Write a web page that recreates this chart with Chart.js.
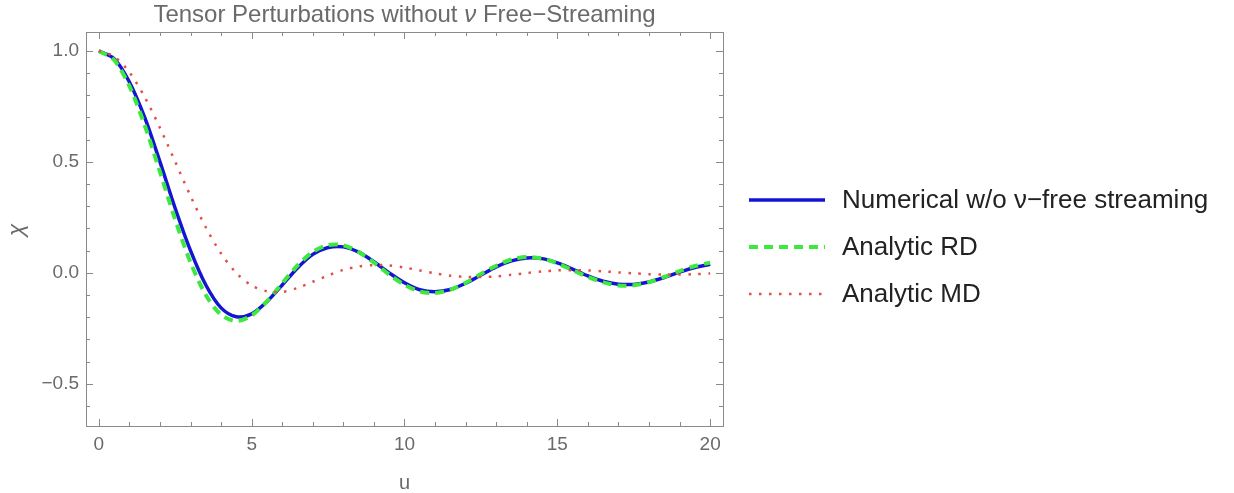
<!DOCTYPE html>
<html>
<head>
<meta charset="utf-8">
<script src="https://cdn.jsdelivr.net/npm/chart.js@4.4.1/dist/chart.umd.min.js"></script>
<style>
  html, body { margin: 0; padding: 0; background: #fff; }
  #wrap { width: 1234px; height: 493px; }
</style>
</head>
<body>
<div id="wrap"><canvas id="chart" width="1234" height="493"></canvas></div>
<script>
  // values, u = 0 .. 20 in steps of 0.5
  var uValues = [0, 0.5, 1, 1.5, 2, 2.5, 3, 3.5, 4, 4.5, 5, 5.5, 6, 6.5, 7, 7.5, 8, 8.5, 9, 9.5, 10,
    10.5, 11, 11.5, 12, 12.5, 13, 13.5, 14, 14.5, 15, 15.5, 16, 16.5, 17, 17.5, 18, 18.5, 19, 19.5, 20];

  var numerical = [1.0, 0.965, 0.86, 0.70, 0.50, 0.29, 0.10, -0.055, -0.158, -0.198, -0.185, -0.13, -0.055, 0.022, 0.083, 0.114, 0.117, 0.093, 0.05, 0.0, -0.045,
    -0.076, -0.085, -0.075, -0.047, -0.010, 0.027, 0.054, 0.067, 0.064, 0.045, 0.017, -0.014, -0.038, -0.051, -0.052, -0.041, -0.021, 0.003, 0.024, 0.039];

  var analyticRD = [1.0, 0.959, 0.841, 0.665, 0.455, 0.239, 0.047, -0.100, -0.189, -0.217, -0.192, -0.128, -0.047, 0.033, 0.094, 0.125, 0.124, 0.094, 0.046, -0.008, -0.054,
    -0.084, -0.091, -0.076, -0.045, -0.005, 0.032, 0.060, 0.071, 0.064, 0.043, 0.012, -0.018, -0.043, -0.057, -0.056, -0.042, -0.018, 0.008, 0.031, 0.046];

  var analyticMD = [1.0, 0.975, 0.904, 0.792, 0.653, 0.50, 0.346, 0.205, 0.087, -0.001, -0.057, -0.083, -0.086, -0.068, -0.040, -0.012, 0.013, 0.029, 0.035, 0.033, 0.024,
    0.011, -0.002, -0.013, -0.018, -0.019, -0.016, -0.009, -0.001, 0.006, 0.011, 0.012, 0.011, 0.007, 0.002, -0.002, -0.006, -0.008, -0.008, -0.006, -0.003];

  var xTicks = [0, 5, 10, 15, 20];
  var yTicks = [-0.5, 0.0, 0.5, 1.0];
  var seriesNames = ["Numerical w/o \u03bd\u2212free streaming", "Analytic RD", "Analytic MD"];

  var FONT = "'Liberation Sans', Arial, sans-serif";
  var FRAME = "#8a8a8a";
  var LABEL = "#6a6a6a";

  function pts(ys) {
    return uValues.map(function (u, i) { return { x: u, y: ys[i] }; });
  }

  // frame with inward ticks on all four sides, like the Mathematica original
  var framePlugin = {
    id: "frame",
    afterDatasetsDraw: function (chart) {
      var ctx = chart.ctx, a = chart.chartArea;
      var xs = chart.scales.x, ys = chart.scales.y;
      ctx.save();
      ctx.strokeStyle = FRAME;
      ctx.lineWidth = 1;
      ctx.strokeRect(Math.round(a.left) + 0.5, Math.round(a.top) + 0.5, Math.round(a.right - a.left), Math.round(a.bottom - a.top));
      ctx.beginPath();
      for (var u = 0; u <= 20; u++) {
        var px = Math.round(xs.getPixelForValue(u)) + 0.5;
        var len = u % 5 === 0 ? 7 : 4;
        ctx.moveTo(px, a.bottom); ctx.lineTo(px, a.bottom - len);
        ctx.moveTo(px, a.top); ctx.lineTo(px, a.top + len);
      }
      for (var k = -6; k <= 10; k++) {
        var py = Math.round(ys.getPixelForValue(k / 10)) + 0.5;
        var l2 = k % 5 === 0 ? 7 : 4;
        ctx.moveTo(a.left, py); ctx.lineTo(a.left + l2, py);
        ctx.moveTo(a.right, py); ctx.lineTo(a.right - l2, py);
      }
      ctx.stroke();
      ctx.restore();
    },
    afterDraw: function (chart) {
      var ctx = chart.ctx, a = chart.chartArea;
      ctx.save();
      // title with italic nu
      var parts = [["Tensor Perturbations without ", "normal"], ["\u03bd", "italic"], [" Free\u2212Streaming", "normal"]];
      var size = 24, total = 0;
      parts.forEach(function (p) { ctx.font = p[1] + " " + size + "px " + FONT; total += ctx.measureText(p[0]).width; });
      var x = (a.left + a.right) / 2 - total / 2;
      ctx.fillStyle = LABEL;
      ctx.textBaseline = "middle";
      parts.forEach(function (p) {
        ctx.font = p[1] + " " + size + "px " + FONT;
        ctx.fillText(p[0], x, 15);
        x += ctx.measureText(p[0]).width;
      });

      // axis labels
      ctx.font = "20px " + FONT;
      ctx.textAlign = "center";
      ctx.fillText("u", (a.left + a.right) / 2, 483);
      ctx.save();
      ctx.translate(17, 230);
      ctx.rotate(-Math.PI / 2);
      ctx.font = "italic 23px " + FONT;
      ctx.fillText("\u03c7", 0, 0);
      ctx.restore();

      // legend
      ctx.textAlign = "left";
      ctx.font = "26px " + FONT;
      var rows = [200, 247, 294];
      chart.data.datasets.forEach(function (ds, i) {
        ctx.beginPath();
        ctx.strokeStyle = ds.borderColor;
        ctx.lineWidth = ds.borderWidth;
        ctx.setLineDash(ds.borderDash || []);
        ctx.moveTo(749, rows[i]);
        ctx.lineTo(825, rows[i]);
        ctx.stroke();
        ctx.setLineDash([]);
        ctx.fillStyle = "#222222";
        ctx.fillText(seriesNames[i], 842, rows[i] + 1);
      });
      ctx.restore();
    }
  };

  new Chart(document.getElementById("chart"), {
    type: "scatter",
    data: {
      datasets: [
        { label: seriesNames[0], data: pts(numerical), showLine: true, borderColor: "#1414d2", borderWidth: 3.5,
          pointRadius: 0, tension: 0.3, order: 3 },
        { label: seriesNames[1], data: pts(analyticRD), showLine: true, borderColor: "#3ee83e", borderWidth: 4,
          borderDash: [9, 6], pointRadius: 0, tension: 0.3, order: 2 },
        { label: seriesNames[2], data: pts(analyticMD), showLine: true, borderColor: "#e0504a", borderWidth: 2.5,
          borderDash: [2.5, 7.5], pointRadius: 0, tension: 0.3, order: 1 }
      ]
    },
    options: {
      responsive: false,
      animation: false,
      events: [],
      layout: { padding: { top: 32, right: 511, left: 0, bottom: 0 } },
      plugins: { legend: { display: false }, tooltip: { enabled: false }, title: { display: false } },
      scales: {
        x: {
          type: "linear", min: -0.42, max: 20.42,
          afterFit: function (s) { s.height = 67; },
          afterBuildTicks: function (s) { s.ticks = xTicks.map(function (v) { return { value: v }; }); },
          grid: { display: false, drawTicks: false },
          border: { display: false },
          ticks: { padding: 7, color: LABEL, font: { family: FONT, size: 19 }, maxRotation: 0,
            callback: function (v) { return String(v); } }
        },
        y: {
          type: "linear", min: -0.69, max: 1.085,
          afterFit: function (s) { s.width = 86; },
          afterBuildTicks: function (s) { s.ticks = yTicks.map(function (v) { return { value: v }; }); },
          grid: { display: false, drawTicks: false },
          border: { display: false },
          ticks: { padding: 7, color: LABEL, font: { family: FONT, size: 19 },
            callback: function (v) { return v.toFixed(1).replace("-", "\u2212"); } }
        }
      }
    },
    plugins: [framePlugin]
  });
</script>
</body>
</html>
